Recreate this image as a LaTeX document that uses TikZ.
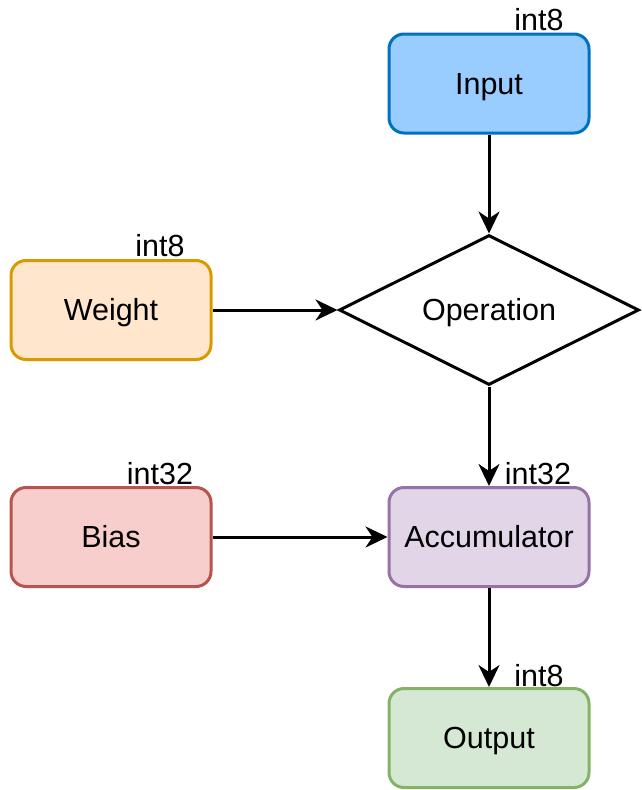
\documentclass[tikz,border=0pt]{standalone}
\usepackage{fontspec}
\setmainfont{Liberation Sans}
\usetikzlibrary{shapes.geometric,arrows.meta}
\definecolor{inFill}{HTML}{99CCFF}
\definecolor{inLine}{HTML}{0070C0}
\definecolor{wFill}{HTML}{FFE6CC}
\definecolor{wLine}{HTML}{D79B00}
\definecolor{bFill}{HTML}{F8CECC}
\definecolor{bLine}{HTML}{B85450}
\definecolor{aFill}{HTML}{E1D5E7}
\definecolor{aLine}{HTML}{9673A6}
\definecolor{oFill}{HTML}{D5E8D4}
\definecolor{oLine}{HTML}{82B366}
\begin{document}
\begin{tikzpicture}[x=1pt,y=-1pt,
  every node/.style={font=\fontsize{30.5}{36}\selectfont, text=black},
  box/.style={rectangle, rounded corners=15pt, line width=3pt,
    minimum width=200pt, minimum height=99pt, inner sep=0pt,
    text height=21.8pt, text depth=0pt},
  decision/.style={diamond, draw=black, fill=white, line width=3pt,
    minimum width=300pt, minimum height=150pt, aspect=2, inner sep=0pt,
    text height=21.8pt, text depth=0pt},
  typelabel/.style={anchor=base, inner sep=0pt},
  flow/.style={line width=3pt, draw=black,
    -{Stealth[length=22pt, width=21pt, inset=7pt]}}
]
\useasboundingbox (0,0) rectangle (641,790);

\node[box, draw=inLine, fill=inFill] (input) at (489,83.5) {Input};
\node[decision] (op) at (489,310) {Operation};
\node[box, draw=wLine, fill=wFill] (weight) at (111,310) {Weight};
\node[box, draw=bLine, fill=bFill] (bias) at (111,537) {Bias};
\node[box, draw=aLine, fill=aFill] (acc) at (489,537) {Accumulator};
\node[box, draw=oLine, fill=oFill] (out) at (489,738) {Output};

\node[typelabel] (lin) at (539,30) {int8};
\node[typelabel] (lw) at (160,256) {int8};
\node[typelabel] (lb) at (160,484) {int32};
\node[typelabel] (la) at (538,484) {int32};
\node[typelabel] (lo) at (539,686) {int8};

\draw[flow] (input.south) -- (op.north);
\draw[flow] (weight.east) -- (op.west);
\draw[flow] (op.south) -- (acc.north);
\draw[flow] (bias.east) -- (acc.west);
\draw[flow] (acc.south) -- (out.north);
\end{tikzpicture}
\end{document}
